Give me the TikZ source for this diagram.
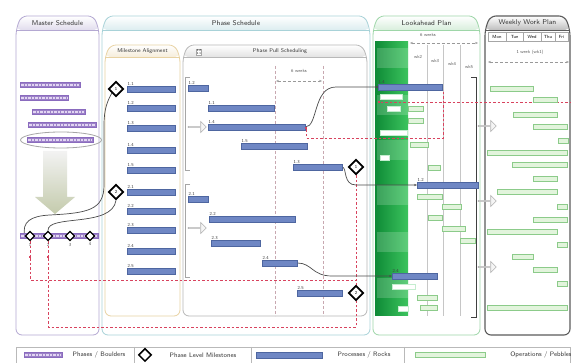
\documentclass[tikz,border=0pt]{standalone}
\usepackage{tikz}
\usetikzlibrary{shapes.geometric,shapes.arrows,arrows.meta,backgrounds,positioning}

\definecolor{rockfill}{HTML}{6F87C4}
\definecolor{rockline}{HTML}{4E66A0}
\definecolor{pebblefill}{HTML}{E2F4DC}
\definecolor{pebbleline}{HTML}{8CCB8A}
\definecolor{boulderfill}{HTML}{E2D6F2}
\definecolor{boulderline}{HTML}{8A6BBE}
\definecolor{linkgray}{HTML}{4A4A4A}
\definecolor{milered}{HTML}{D8435E}
\definecolor{weekgray}{HTML}{C8A8B0}
\definecolor{masterline}{HTML}{B4A8D2}
\definecolor{phaseline}{HTML}{A8D2D8}
\definecolor{alignline}{HTML}{E8D2A2}
\definecolor{pullline}{HTML}{B8B8B8}
\definecolor{lookline}{HTML}{9ED6A8}
\definecolor{weekline}{HTML}{5C5C5C}
\definecolor{leafgreen}{HTML}{3CC45E}
\definecolor{darkleaf}{HTML}{0E8A36}

\begin{document}
\begin{tikzpicture}[x=1pt, y=-1pt,
    rock/.style={draw=rockline, fill=rockfill, line width=0.4pt, minimum height=6pt, inner sep=0pt, anchor=west},
    pebble/.style={draw=pebbleline, fill=pebblefill, line width=0.5pt, minimum height=5pt, inner sep=0pt, anchor=west},
    white pebble/.style={pebble, draw=white!70!leafgreen, fill=white},
    boulder/.style={draw=boulderline, fill=boulderline!85, line width=0.5pt, minimum height=5.5pt, inner sep=0pt, anchor=west,
      path picture={\draw[boulderfill, line width=2.2pt, dash pattern=on 2.4pt off 1.1pt] ([xshift=1pt]path picture bounding box.west) -- ([xshift=-1pt]path picture bounding box.east);}},
    milestone/.style={diamond, draw=black, line width=1.7pt, fill=white, minimum size=15pt, inner sep=0pt, font=\sffamily\fontsize{4.5}{5}\selectfont},
    small milestone/.style={milestone, line width=1.2pt, minimum size=9.5pt},
    bar label/.style={font=\sffamily\fontsize{4.5}{5}\selectfont, text=black!75, inner sep=0.4pt, anchor=south west},
    head label/.style={font=\sffamily\fontsize{7}{8}\selectfont, text=black!80},
    sub label/.style={font=\sffamily\fontsize{5.5}{6}\selectfont, text=black!80},
    small label/.style={font=\sffamily\fontsize{4.5}{5}\selectfont, text=black!65, inner sep=0.5pt},
    legend label/.style={font=\sffamily\fontsize{6.5}{7}\selectfont, text=black!80},
    hollow arrow/.style={single arrow, draw=gray!60, fill=gray!8, line width=0.6pt, minimum height=18pt, minimum width=11pt, single arrow head extend=2.5pt, inner sep=0pt},
    link/.style={draw=linkgray, line width=0.7pt},
    red link/.style={draw=milered, line width=0.6pt, dash pattern=on 2.5pt off 2pt},
    red dot/.style={fill=milered, minimum size=2.6pt, inner sep=0pt},
    day box/.style={draw=gray!70, fill=white, minimum height=9pt, inner sep=0pt, outer sep=0pt, font=\sffamily\fontsize{4.5}{5}\selectfont, anchor=west},
    span/.style={gray!80, line width=0.5pt, dash pattern=on 3pt off 2pt, arrows={Stealth[length=3pt]-Stealth[length=3pt]}}]

  \useasboundingbox (0,0) rectangle (571,363);

  % panel titles
  \node[head label] (mshead) at (57.5,23) {Master Schedule};
  \node[head label] (pshead) at (236,23) {Phase Schedule};
  \node[sub label] (mahead) at (142.5,51) {Milestone Alignment};
  \node[sub label] (pphead) at (280,51) {Phase Pull Scheduling};
  \node[draw=gray!70, fill=white, inner sep=0.6pt, align=center, font=\sffamily\fontsize{3}{3}\selectfont] (ppicon) at (199,52) {1.2\\1.1};
  \node[head label] (lphead) at (426.5,23) {Lookahead Plan};
  \node[head label] (wwhead) at (527.5,23) {Weekly Work Plan};

  % master schedule
  \node[boulder, minimum width=60pt] (b1) at (20,85) {};
  \node[boulder, minimum width=48pt] (b2) at (20,98) {};
  \node[boulder, minimum width=53pt] (b3) at (32,112) {};
  \node[boulder, minimum width=68pt] (b4) at (28,125) {};
  \node[boulder, minimum width=66pt] (b5) at (27,140) {};
  \node[ellipse, draw=gray!70, line width=0.8pt, minimum width=81pt, minimum height=16pt] (sel) at (61,140) {};
  \node[boulder, minimum width=78pt] (b6) at (20,236) {};
  \node[small milestone] (md1) at (30,236) {};
  \node[small milestone] (md2) at (48,236) {};
  \node[small milestone] (md3) at (70,236) {};
  \node[small milestone] (md4) at (90,236) {};
  \node[small label] (mn1) [below=1pt of md1] {1};
  \node[small label] (mn2) [below=1pt of md2] {2};
  \node[small label] (mn3) [below=1pt of md3] {3};
  \node[small label] (mn4) [below=1pt of md4] {4};
  \node[red dot] (rq1) at (30,257) {};
  \node[red dot] (rq2) at (48,257) {};

  % milestone alignment
  \foreach \lab/\yy [count=\i] in {1.1/89,1.2/108,1.3/128,1.4/150,1.5/170,2.1/192,2.2/211,2.3/230,2.4/251,2.5/271} {
    \node[rock, minimum width=48pt] (ma\i) at (127,\yy) {};
    \node[bar label] (mal\i) at (ma\i.north west) {\lab};
  }
  \node[milestone] (d1) at (116,89) {1};
  \node[milestone] (d2) at (116,192) {2};

  % phase pull scheduling
  \foreach \lab/\xx/\ww/\yy [count=\i] in {1.2/188/20/88,1.1/208/66/108,1.4/208/97/127,1.5/241/66/146,1.3/293/49/167,2.1/188/20/199,2.2/209/86/219,2.3/211/49/243,2.4/262/35/263,2.5/297/45/293} {
    \node[rock, minimum width=\ww pt] (pp\i) at (\xx,\yy) {};
    \node[bar label] (ppl\i) at (pp\i.north west) {\lab};
  }
  \node[hollow arrow] (ha1) at (197,127) {};
  \node[hollow arrow] (ha2) at (197,228) {};
  \node[small label] (six1) at (299,71) {6 weeks};
  \node[milestone] (d3) at (356,167) {1};
  \node[milestone] (d4) at (356,293) {2};
  \node[red dot] (rq3) at (306,128) {};

  % lookahead plan
  \node[small label] (six2) at (428,35) {6 weeks};
  \node[small label] (wk2) at (418,57) {wk2};
  \node[small label] (wk3) at (435,61) {wk3};
  \node[small label] (wk4) at (452,64) {wk4};
  \node[small label] (wk5) at (469,67) {wk5};
  \foreach \xx/\yy/\ww [count=\i] in {380/97/22,387/109/13,380/133/27,380/158/9,392/287/23,398/309/10} {
    \node[white pebble, minimum width=\ww pt] (lw\i) at (\xx,\yy) {};
  }
  \foreach \xx/\yy/\ww [count=\i] in {408/109/15,408/121/15,410/145/18,428/168/12,417/197/25,442/207/19,428/218/14,442/229/23,460/241/15,417/298/20,420/308/17} {
    \node[pebble, minimum width=\ww pt] (lp\i) at (\xx,\yy) {};
  }
  \node[rock, minimum width=64pt] (la1) at (378,87) {};
  \node[bar label] (lal1) at (la1.north west) {1.4};
  \node[rock, minimum width=61pt] (la2) at (417,185) {};
  \node[bar label] (lal2) at (la2.north west) {1.2};
  \node[rock, minimum width=45pt] (la3) at (392,276) {};
  \node[bar label] (lal3) at (la3.north west) {2.4};
  \node[red dot] (rq4) at (379,102) {};

  % weekly work plan
  \node[day box, minimum width=18pt] (mon) at (488,37) {Mon};
  \node[day box, minimum width=17pt] (tue) [right=0pt of mon] {Tue};
  \node[day box, minimum width=18pt] (wed) [right=0pt of tue] {Wed};
  \node[day box, minimum width=14pt] (thu) [right=0pt of wed] {Thu};
  \node[day box, minimum width=13pt] (fri) [right=0pt of thu] {Fri};
  \node[small label] (onew) at (530,52) {1 week (wk1)};
  \foreach \xx/\yy/\ww [count=\i] in {490/89/43,533/100/24,513/115/44,533/127/34,558/141/10,487/153/80,512/165/55,533/179/24,497/192/60,557/207/10,533/220/34,487/232/70,557/245/10,512/257/21,533/270/24,557/284/10,487/308/80} {
    \node[pebble, minimum width=\ww pt] (wp\i) at (\xx,\yy) {};
  }
  \node[hollow arrow] (ha3) at (487,126) {};
  \node[hollow arrow] (ha4) at (487,201) {};
  \node[hollow arrow] (ha5) at (487,267) {};

  % legend
  \node[boulder, minimum width=38pt] (lgb) at (24,355) {};
  \node[legend label] (lgbt) at (99,355) {Phases / Boulders};
  \node[milestone, minimum size=13pt, line width=1.5pt] (lgm) at (145,355) {};
  \node[legend label] (lgmt) at (203,355) {Phase Level Milestones};
  \node[rock, minimum width=66pt] (lgr) at (256,355) {};
  \node[legend label] (lgrt) at (364,355) {Processes / Rocks};
  \node[pebble, minimum width=70pt] (lgp) at (415,355) {};
  \node[legend label] (lgpt) at (541,355) {Operations / Pebbles};

  \begin{scope}[on background layer]
    \fill[white] (0,0) rectangle (571,363);
    % panels with tab headers
    \foreach \xa/\xb/\ya/\yb/\yh/\col/\lw in {16/99/16/335/30/masterline/0.8, 102/370/16/335/30/phaseline/0.8, 105/180/45/316/57/alignline/0.8, 183/367/45/316/57/pullline/0.8, 373/480/16/335/30/lookline/0.8, 485/570/16/335/30/weekline/1.1} {
      \shade[top color=white, bottom color=\col!40, rounded corners=5pt] (\xa,\yh) -- (\xa+5,\ya) -- (\xb-5,\ya) -- (\xb,\yh) -- cycle;
      \draw[\col, line width=\lw pt, rounded corners=6pt] (\xa,\yh) -- (\xa+5,\ya) -- (\xb-5,\ya) -- (\xb,\yh) -- (\xb,\yb) -- (\xa,\yb) -- cycle;
      \draw[\col, line width=0.6pt] (\xa,\yh) -- (\xb,\yh);
    }
    % big arrow from selected phase down to the milestones
    \shade[top color=gray!10!white, bottom color={rgb,255:red,196;green,203;blue,172}] (43,151) -- (67,151) -- (67,197) -- (75,197) -- (55,214) -- (35,197) -- (43,197) -- cycle;
    % green week column
    \shade[left color=darkleaf, right color=leafgreen] (375,42) rectangle (408,316);
    \foreach \yy in {48,95,140,185,232,278} {
      \fill[white, opacity=0.18] (377,\yy) rectangle (408,\yy+20);
    }
    \foreach \xx in {427,443,460} {
      \draw[gray!45, line width=0.4pt] (\xx,45) -- (\xx,316);
    }
    \draw[black!75, line width=0.7pt] (471,77) -| (476,317) -- (471,317);
    % pull brackets and week guides
    \draw[gray!70, line width=0.8pt] (190,77) -| (185,170) -- (190,170);
    \draw[gray!70, line width=0.8pt] (190,184) -| (185,277) -- (190,277);
    \draw[weekgray, line width=0.5pt, dash pattern=on 3pt off 2pt] (275,66) -- (275,316);
    \draw[weekgray, line width=0.5pt, dash pattern=on 3pt off 2pt] (323,66) -- (323,316);
    \draw[span] (276,81) -- (322,81);
    \draw[span] (410,43) -- (478,43);
    \draw[span] (488,62) -- (569,62);
    % milestone constraints
    \draw[red link] (md1.south) -- (rq1) |- (356,280);
    \draw[red link] (md2.south) -- (rq2) |- (356,327) -- (d4.south);
    \draw[red link] (d3.south) -- (d4.north);
    \draw[red link] (rq3) |- (443,138) -- (443,90);
    \draw[red link] (rq4) -- (570,102);
    % pulls
    \draw[link] (md1.west) .. controls (22,222) and (30,216) .. (50,215) .. controls (88,213) and (104,210) .. (104,185) -- (104,125) .. controls (104,108) and (108,100) .. (d1.south west);
    \draw[link] (md2.north) .. controls (47,214) and (112,228) .. (d2.south);
    \draw[link, -{Circle[length=2.6pt]}] (pp3.east) .. controls (318,127) and (313,87) .. (336,87) -- (la1.west);
    \draw[link, -{Stealth[length=3pt]}] (pp5.east) .. controls (347,168) and (343,185) .. (356,185) -- (la2.west);
    \draw[link, -{Stealth[length=3pt]}] (pp9.east) .. controls (312,263) and (312,276) .. (332,276) -- (la3.west);
    % legend frame
    \draw[gray!55, line width=0.6pt] (16,347) rectangle (570,363);
    \foreach \xx in {134,251,404} {
      \draw[gray!55, line width=0.6pt] (\xx,347) -- (\xx,363);
    }
  \end{scope}
\end{tikzpicture}
\end{document}
